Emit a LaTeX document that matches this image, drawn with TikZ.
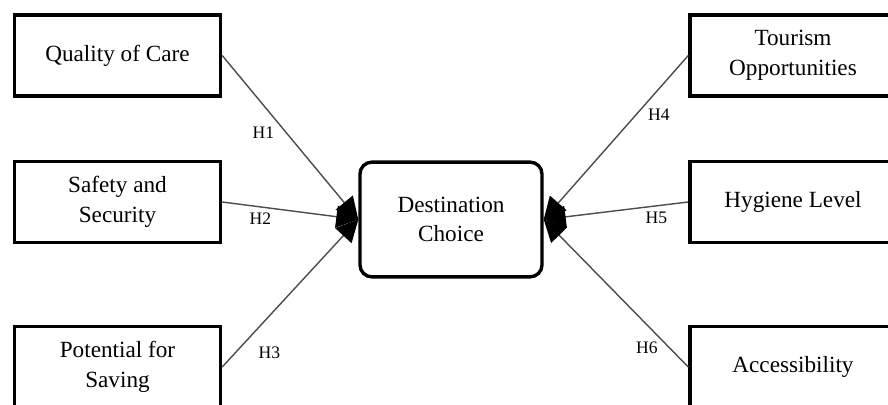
\documentclass[tikz,border=0pt]{standalone}
\usepackage{fontspec}
\setmainfont{Liberation Serif}
\usetikzlibrary{arrows.meta}
\tikzset{>=stealth}
\tikzset{
	factor/.style={draw, line width=2.4pt, minimum width=5.15cm, minimum height=2.02cm,
		align=center, font=\fontsize{16.5}{21}\selectfont},
	choice/.style={draw, line width=2.4pt, rounded corners=0.3cm, minimum width=4.55cm,
		minimum height=2.87cm, align=center, font=\fontsize{16.5}{21}\selectfont},
	hyp/.style={-{Triangle[length=0.55cm, width=0.55cm, black]}, line width=1pt, draw=black!70},
	hlabel/.style={font=\fontsize{12.5}{14}\selectfont, inner sep=2pt}
}

\begin{document}
\begin{tikzpicture}[x=0.025cm, y=-0.025cm]

	\useasboundingbox (0,0) rectangle (888,405);

	% factors on the left
	\node[factor] (care) at (117.5,55.5) {Quality of Care};
	\node[factor] (safety) at (117.5,202) {Safety and\\Security};
	\node[factor] (saving) at (117.5,367) {Potential for\\Saving};

	% factors on the right
	\node[factor] (tourism) at (793,55.5) {Tourism\\Opportunities};
	\node[factor] (hygiene) at (793,202) {Hygiene Level};
	\node[factor] (access) at (793,367) {Accessibility};

	\node[choice] (dest) at (451,219.5) {Destination\\Choice};

	\draw[hyp] (care.east) -- node[hlabel, pos=0.47, left=6pt] {H1} (dest.west);
	\draw[hyp] (safety.east) -- node[hlabel, pos=0.28, below=2pt] {H2} (dest.west);
	\draw[hyp] (saving.east) -- node[hlabel, pos=0.2, below right=4pt] {H3} (dest.west);

	\draw[hyp] (tourism.west) -- node[hlabel, pos=0.36, right=6pt] {H4} (dest.east);
	\draw[hyp] (hygiene.west) -- node[hlabel, pos=0.22, below=2pt] {H5} (dest.east);
	\draw[hyp] (access.west) -- node[hlabel, pos=0.13, left=6pt] {H6} (dest.east);

\end{tikzpicture}
\end{document}
